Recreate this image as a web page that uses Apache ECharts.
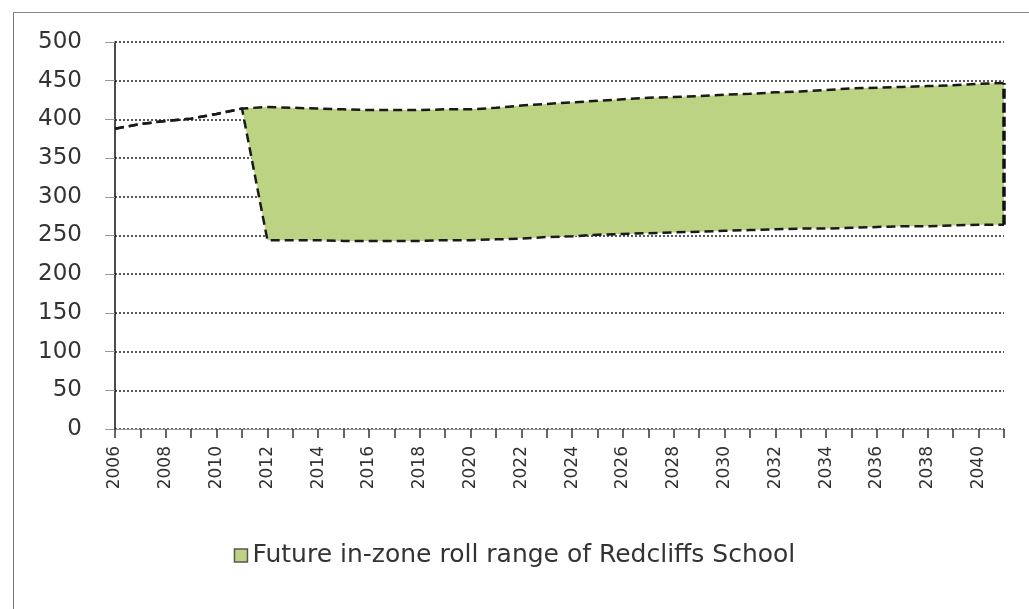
<!DOCTYPE html>
<html>
<head>
<meta charset="utf-8">
<script src="https://cdn.jsdelivr.net/npm/echarts@6/dist/echarts.min.js"></script>
<style>
  html, body { margin: 0; padding: 0; background: #fff; }
  #chart { width: 1029px; height: 609px; }
  #frame { position: absolute; left: 13px; top: 12px; right: 0; bottom: 0;
           border-left: 1.5px solid #777; border-top: 1.5px solid #888; pointer-events: none; }
</style>
</head>
<body>
<div id="chart"></div>
<div id="frame"></div>
<script>
// years on the x axis
var years = [];
for (var y = 2006; y <= 2041; y++) years.push(String(y));

// actual roll 2006-2011
var actualRoll = [388, 394, 398, 401, 407, 414];

// projected range 2012-2041
var rangeLow = [244, 244, 244, 243, 243, 243, 243, 244, 244, 245,
                246, 248, 249, 251, 252, 253, 254, 255, 256, 257,
                258, 259, 259, 260, 261, 262, 262, 263, 264, 264];
var rangeHigh = [416, 415, 414, 413, 412, 412, 412, 413, 413, 415,
                 418, 420, 422, 424, 426, 428, 429, 430, 432, 433,
                 435, 436, 438, 440, 441, 442, 443, 444, 446, 447];

var seriesName = 'Future in-zone roll range of Redcliffs School';

// stacked: invisible base + the range on top of it
var baseData = actualRoll.concat(rangeLow);
var spanData = [];
for (var i = 0; i < actualRoll.length; i++) spanData.push(0);
for (var j = 0; j < rangeLow.length; j++) spanData.push(rangeHigh[j] - rangeLow[j]);

var lastYear = years[years.length - 1];
var lastLow = rangeLow[rangeLow.length - 1];
var lastHigh = rangeHigh[rangeHigh.length - 1];

var myChart = echarts.init(document.getElementById('chart'));
var option = {
    animation: false,
    backgroundColor: '#fff',
    legend: {
        data: [{ name: seriesName, icon: 'rect' }],
        left: 'center',
        top: 538,
        itemWidth: 13,
        itemHeight: 13,
        itemGap: 5,
        itemStyle: { borderColor: '#555', borderWidth: 1.5, borderType: 'solid' },
        textStyle: { fontFamily: 'DejaVu Sans', fontSize: 25, color: '#333' }
    },
    grid: {
        left: 115,
        right: 25,
        top: 42,
        bottom: 180,
        containLabel: false
    },
    xAxis: {
        type: 'category',
        data: years,
        boundaryGap: false,
        axisLine: { lineStyle: { color: '#999', width: 1 } },
        axisTick: { show: true, interval: 0, length: 9, lineStyle: { color: '#333', width: 1.5 } },
        axisLabel: {
            interval: 1,
            rotate: 90,
            margin: 17,
            fontFamily: 'DejaVu Sans',
            fontSize: 17,
            color: '#333'
        },
        splitLine: { show: false }
    },
    yAxis: {
        type: 'value',
        min: 0,
        max: 500,
        interval: 50,
        axisLine: { show: true, lineStyle: { color: '#111', width: 1.5 } },
        axisTick: { show: true, length: 10, lineStyle: { color: '#999' } },
        axisLabel: {
            margin: 33,
            fontFamily: 'DejaVu Sans',
            fontSize: 23,
            color: '#333'
        },
        splitLine: { show: true, lineStyle: { color: '#222', type: [2, 2], width: 1.5 } }
    },
    series: [
        {
            name: 'base',
            type: 'line',
            stack: 'roll',
            data: baseData,
            showSymbol: false,
            symbol: 'none',
            lineStyle: { color: '#1a1a1a', width: 2.5, type: [9, 5] },
            z: 3
        },
        {
            name: seriesName,
            type: 'line',
            stack: 'roll',
            data: spanData,
            showSymbol: false,
            symbol: 'none',
            lineStyle: { color: '#1a1a1a', width: 2.5, type: [9, 5] },
            areaStyle: { color: '#bdd384', opacity: 1 },
            itemStyle: { color: '#bdd384' },
            z: 2,
            markLine: {
                silent: true,
                symbol: ['none', 'none'],
                label: { show: false },
                lineStyle: { color: '#111', width: 3.5, type: [10, 4] },
                data: [[{ coord: [lastYear, lastLow] }, { coord: [lastYear, lastHigh] }]]
            }
        }
    ]
};

myChart.setOption(option);
</script>
</body>
</html>
